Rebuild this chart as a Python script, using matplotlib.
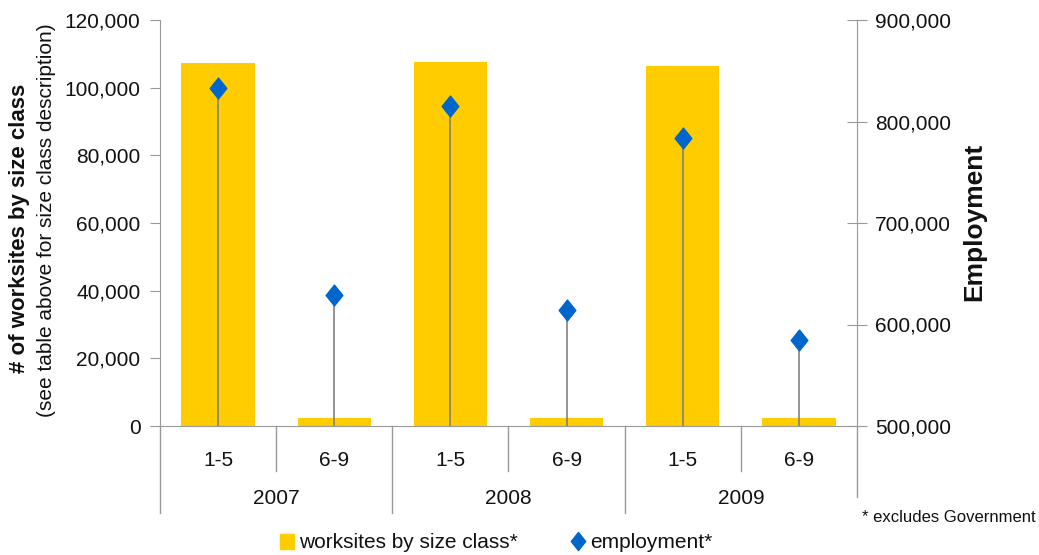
import matplotlib
matplotlib.use("Agg")
import matplotlib.pyplot as plt
import matplotlib.transforms as mtrans
from matplotlib.path import Path
from matplotlib.patches import Patch
from matplotlib.lines import Line2D
import numpy as np

plt.rcParams['font.family'] = ['Liberation Sans', 'DejaVu Sans']

years = ["2007", "2008", "2009"]
size_classes = ["1-5", "6-9"]
worksites = [107300, 2400, 107600, 2400, 106500, 2400]
employment = [832700, 629000, 815600, 614300, 784000, 584700]

bar_color = "#FFCC00"
dia_color = "#0066CC"
axis_gray = "#999999"
txt = "#111111"

W, H = 1039, 555
fig = plt.figure(figsize=(W / 100, H / 100), dpi=100)
L, R, B, T = 160, 857, 426, 20
ax = fig.add_axes([L / W, 1 - B / H, (R - L) / W, (B - T) / H])
ax2 = ax.twinx()

n = len(worksites)
x = np.arange(n)
ax.bar(x, worksites, width=0.63, color=bar_color, zorder=2)
ax.set_xlim(-0.5, n - 0.5)
ax.set_ylim(0, 120000)
ax.set_yticks(np.arange(0, 120001, 20000))
ax.set_yticklabels([f"{v:,}" for v in range(0, 120001, 20000)], fontsize=15, color=txt)

ax2.set_ylim(500000, 900000)
ax2.set_yticks(np.arange(500000, 900001, 100000))
ax2.set_yticklabels([f"{v:,}" for v in range(500000, 900001, 100000)], fontsize=15, color=txt)

diamond = Path([(0, 1.25), (1, 0), (0, -1.25), (-1, 0), (0, 1.25)],
               [Path.MOVETO, Path.LINETO, Path.LINETO, Path.LINETO, Path.CLOSEPOLY])
ax2.vlines(x, 500000, employment, color="#808080", lw=1.2, zorder=3)
ax2.plot(x, employment, linestyle="none", marker=diamond, ms=15,
         color=dia_color, mec=dia_color, zorder=4)

for a in (ax, ax2):
    a.spines["top"].set_visible(False)
    for s in ("bottom", "left", "right"):
        a.spines[s].set_color(axis_gray)
ax.spines["right"].set_visible(False)
ax2.spines["left"].set_visible(False)
ax2.spines["bottom"].set_visible(False)
ax.spines["left"].set_bounds(0, 120000)
ax2.spines["right"].set_bounds(500000, 900000)

ax.tick_params(axis="y", direction="out", length=7, color=axis_gray, pad=7)
ax2.tick_params(axis="y", direction="inout", length=14, color=axis_gray, pad=6)

# category axis
ax.set_xticks(x)
ax.set_xticklabels([c for _ in years for c in size_classes], fontsize=15, color=txt)
ax.tick_params(axis="x", length=0, pad=18)
trans = mtrans.blended_transform_factory(ax.transData, ax.transAxes)
px = 1 / (B - T)
for xb, depth in [(-0.5, 87), (n - 0.5, 71)]:
    ax.plot([xb, xb], [0, -depth * px], transform=trans, color=axis_gray, lw=1, clip_on=False)
for i in range(1, n):
    depth = 87 if i % 2 == 0 else 45
    ax.plot([i - 0.5, i - 0.5], [0, -depth * px], transform=trans, color=axis_gray, lw=1, clip_on=False)
for j, yr in enumerate(years):
    ax.text(2 * j + 0.5, -72 * px, yr, transform=trans, ha="center", va="center",
            fontsize=15, color=txt)

# axis labels
fig.text(20 / W, 1 - 228 / H, "# of worksites by size class", rotation=90,
         ha="center", va="center", fontsize=16, fontweight="bold", color=txt)
fig.text(47 / W, 1 - 220 / H, "(see table above for size class description)", rotation=90,
         ha="center", va="center", fontsize=15, color=txt)
fig.text(974 / W, 1 - 222 / H, "Employment", rotation=90, ha="center", va="center",
         fontsize=19, fontweight="bold", color=txt)

fig.text(862 / W, 1 - 517 / H, "* excludes Government", ha="left", va="center",
         fontsize=12, color=txt)

handles = [Patch(facecolor=bar_color, edgecolor=bar_color),
           Line2D([], [], linestyle="none", marker=diamond, ms=13, color=dia_color)]
fig.legend(handles, ["worksites by size class*", "employment*"], loc="center",
           bbox_to_anchor=(496 / W, 1 - 543 / H), ncol=2, frameon=False, fontsize=15,
           handlelength=0.7, handletextpad=0.25, columnspacing=2.5, labelcolor=txt)

fig.savefig("out.png", dpi=100)
